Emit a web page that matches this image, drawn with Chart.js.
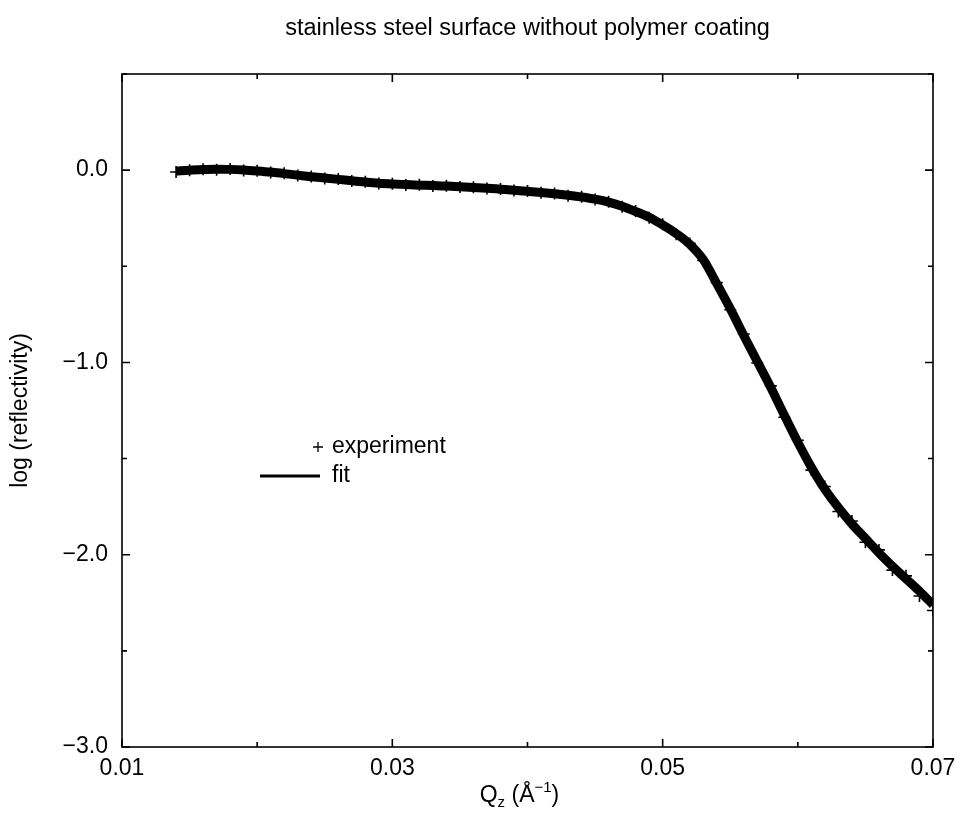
<!DOCTYPE html>
<html>
<head>
<meta charset="utf-8">
<script src="https://cdn.jsdelivr.net/npm/chart.js@4/dist/chart.umd.min.js"></script>
<style>
  html, body { margin: 0; padding: 0; background: #fff; }
</style>
</head>
<body>
<canvas id="reflChart" width="964" height="817"></canvas>
<script>
// Q_z values (1/Å) for the measured points and the fit
const qz = [
  0.014, 0.015, 0.016, 0.017, 0.018, 0.019, 0.020, 0.021, 0.022, 0.023,
  0.024, 0.025, 0.026, 0.027, 0.028, 0.029, 0.030, 0.031, 0.032, 0.033,
  0.034, 0.035, 0.036, 0.037, 0.038, 0.039, 0.040, 0.041, 0.042, 0.043,
  0.044, 0.045, 0.046, 0.047, 0.048, 0.049, 0.050, 0.051, 0.052, 0.053,
  0.054, 0.055, 0.056, 0.057, 0.058, 0.059, 0.060, 0.061, 0.062, 0.063,
  0.064, 0.065, 0.066, 0.067, 0.068, 0.069, 0.070
];

// log(reflectivity), measured
const expLog = [
  -0.010, 0.000, 0.005, 0.002, 0.006, -0.002, -0.003, -0.012, -0.016, -0.028,
  -0.033, -0.043, -0.046, -0.057, -0.060, -0.070, -0.071, -0.077, -0.076, -0.082,
  -0.081, -0.088, -0.089, -0.096, -0.098, -0.106, -0.108, -0.118, -0.121, -0.133,
  -0.138, -0.153, -0.164, -0.190, -0.212, -0.248, -0.282, -0.334, -0.381, -0.470,
  -0.585, -0.726, -0.852, -1.003, -1.122, -1.285, -1.405, -1.560, -1.645, -1.775,
  -1.825, -1.935, -1.975, -2.080, -2.110, -2.215, -2.290
];

// log(reflectivity), fit
const fitLog = [
  -0.005, 0.000, 0.003, 0.005, 0.004, 0.001, -0.004, -0.010, -0.018, -0.026,
  -0.034, -0.041, -0.048, -0.055, -0.062, -0.068, -0.072, -0.075, -0.078, -0.080,
  -0.083, -0.086, -0.090, -0.094, -0.099, -0.104, -0.110, -0.116, -0.123, -0.131,
  -0.140, -0.151, -0.166, -0.188, -0.215, -0.245, -0.285, -0.330, -0.385, -0.465,
  -0.590, -0.720, -0.860, -0.995, -1.130, -1.275, -1.415, -1.545, -1.660, -1.755,
  -1.840, -1.915, -1.990, -2.060, -2.125, -2.190, -2.260
];

const xMajor = [0.01, 0.03, 0.05, 0.07];
const xMinor = [0.02, 0.04, 0.06];
const yMajor = [-3, -2, -1, 0];
const yMinor = [-2.5, -1.5, -0.5, 0.5];
const legendLabels = ["experiment", "fit"];

const FONT = "'Liberation Sans', Arial, sans-serif";
const FS = 23;

// frame around the plot with inward ticks on all four sides
const frameTicks = {
  id: "frameTicks",
  afterDatasetsDraw(chart) {
    const { ctx, chartArea: a, scales: { x, y } } = chart;
    ctx.save();
    ctx.strokeStyle = "#000";
    ctx.lineWidth = 1.6;
    ctx.strokeRect(a.left, a.top, a.right - a.left, a.bottom - a.top);
    ctx.beginPath();
    const xt = (vals, len) => vals.forEach(v => {
      const px = x.getPixelForValue(v);
      ctx.moveTo(px, a.bottom); ctx.lineTo(px, a.bottom - len);
      ctx.moveTo(px, a.top); ctx.lineTo(px, a.top + len);
    });
    const yt = (vals, len) => vals.forEach(v => {
      const py = y.getPixelForValue(v);
      ctx.moveTo(a.left, py); ctx.lineTo(a.left + len, py);
      ctx.moveTo(a.right, py); ctx.lineTo(a.right - len, py);
    });
    xt(xMajor, 8); xt(xMinor, 5);
    yt(yMajor, 8); yt(yMinor, 5);
    ctx.stroke();
    ctx.restore();
  }
};

// legend inside the plot + x axis title with sub/superscript
const annotations = {
  id: "annotations",
  afterDraw(chart) {
    const { ctx, chartArea: a } = chart;
    ctx.save();
    ctx.fillStyle = "#000";
    ctx.strokeStyle = "#000";
    ctx.textBaseline = "middle";
    ctx.font = FS + "px " + FONT;

    // legend
    const lx = a.left + 196, ly = a.top + 373;
    ctx.lineWidth = 1.3;
    ctx.beginPath();
    ctx.moveTo(lx - 5, ly); ctx.lineTo(lx + 5, ly);
    ctx.moveTo(lx, ly - 5); ctx.lineTo(lx, ly + 5);
    ctx.stroke();
    ctx.fillText(legendLabels[0], lx + 14, ly);
    ctx.lineWidth = 3;
    ctx.beginPath();
    ctx.moveTo(lx - 58, ly + 29); ctx.lineTo(lx + 2, ly + 29);
    ctx.stroke();
    ctx.fillText(legendLabels[1], lx + 14, ly + 29);

    // x axis title: Q_z (Å^-1)
    const parts = [
      ["Q", FS, 0], ["z", 15, 7], [" (Å", FS, 0], ["\u22121", 15, -8], [")", FS, 0]
    ];
    let w = 0;
    parts.forEach(p => { ctx.font = p[1] + "px " + FONT; w += ctx.measureText(p[0]).width; });
    let tx = (a.left + a.right) / 2 - 8 - w / 2;
    const ty = 796;
    ctx.textAlign = "left";
    parts.forEach(p => {
      ctx.font = p[1] + "px " + FONT;
      ctx.fillText(p[0], tx, ty + p[2]);
      tx += ctx.measureText(p[0]).width;
    });
    ctx.restore();
  }
};

new Chart(document.getElementById("reflChart"), {
  type: "line",
  data: {
    datasets: [
      {
        label: legendLabels[0],
        data: qz.map((q, i) => ({ x: q, y: expLog[i] })),
        showLine: false,
        pointStyle: "cross",
        pointRadius: 6,
        pointBorderWidth: 1.6,
        pointBorderColor: "#000",
        pointBackgroundColor: "#000"
      },
      {
        label: legendLabels[1],
        data: qz.map((q, i) => ({ x: q, y: fitLog[i] })),
        borderColor: "#000",
        borderWidth: 9,
        pointRadius: 0,
        cubicInterpolationMode: "monotone",
        fill: false
      }
    ]
  },
  options: {
    responsive: false,
    devicePixelRatio: 1,
    animation: false,
    layout: { padding: { top: 0, right: 31, bottom: 0, left: 0 } },
    plugins: {
      legend: { display: false },
      tooltip: { enabled: false },
      title: {
        display: true,
        fullSize: false,
        text: "stainless steel surface without polymer coating",
        color: "#000",
        font: { family: FONT, size: 23.5, weight: "normal" },
        padding: { top: 14, bottom: 31.8 }
      }
    },
    scales: {
      x: {
        type: "linear",
        min: 0.01,
        max: 0.07,
        grid: { display: false, drawTicks: false },
        border: { display: false },
        ticks: {
          color: "#000",
          font: { family: FONT, size: FS },
          padding: 8,
          maxRotation: 0,
          autoSkip: false,
          callback: v => v.toFixed(2)
        },
        afterBuildTicks: s => { s.ticks = xMajor.map(v => ({ value: v })); },
        afterFit: s => { s.height = 70; }
      },
      y: {
        min: -3,
        max: 0.5,
        grid: { display: false, drawTicks: false },
        border: { display: false },
        ticks: {
          color: "#000",
          font: { family: FONT, size: FS },
          padding: 14,
          autoSkip: false,
          callback: v => (v < 0 ? "\u2212" : "") + Math.abs(v).toFixed(1)
        },
        title: {
          display: true,
          text: "log (reflectivity)",
          color: "#000",
          font: { family: FONT, size: FS },
          padding: { top: 7, bottom: 0 }
        },
        afterBuildTicks: s => { s.ticks = yMajor.map(v => ({ value: v })); },
        afterFit: s => { s.width = 122; }
      }
    }
  },
  plugins: [frameTicks, annotations]
});
</script>
</body>
</html>
